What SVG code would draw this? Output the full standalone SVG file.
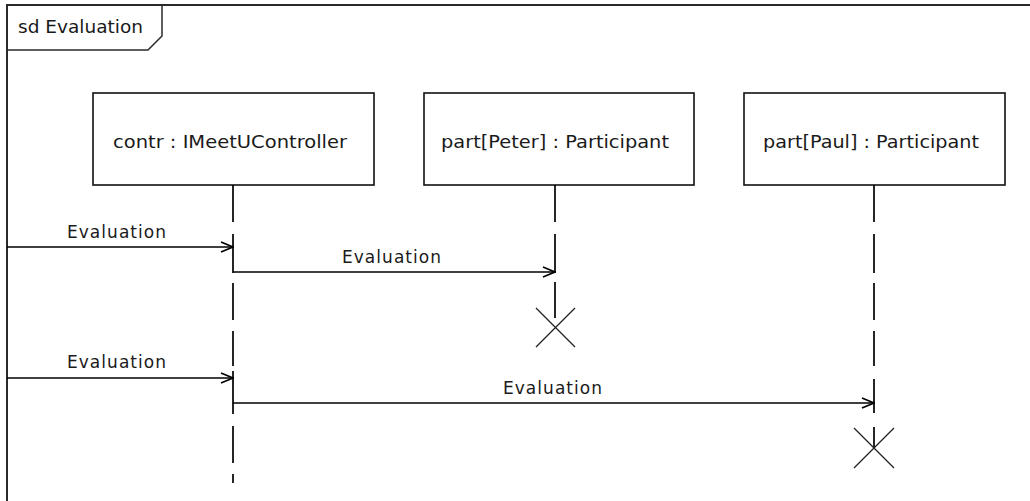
<svg xmlns="http://www.w3.org/2000/svg" width="1030" height="501" viewBox="0 0 1030 501">
  <style>
    .frame { fill: none; stroke: #2a2a2a; stroke-width: 2; }
    .tab { fill: none; stroke: #2a2a2a; stroke-width: 1.5; }
    .box { fill: #fff; stroke: #111; stroke-width: 1.6; }
    .life { fill: none; stroke: #000; stroke-width: 1.7; }
    .msg { fill: none; stroke: #000; stroke-width: 1.7; marker-end: url(#open); }
    .kill { fill: none; stroke: #222; stroke-width: 1.3; }
    text { font-family: "DejaVu Sans", Verdana, sans-serif; fill: #1a1a1a; }
    .lbl { font-size: 18px; }
    .mlbl { font-size: 17px; }
  </style>
  <defs>
    <marker id="open" viewBox="0 0 14 12" refX="13" refY="6" markerWidth="14" markerHeight="12" markerUnits="userSpaceOnUse" orient="auto">
      <path d="M1,1 L13,6 L1,11" fill="none" stroke="#000" stroke-width="1.7"/>
    </marker>
  </defs>

  <rect width="1030" height="501" fill="#fff"/>

  <!-- interaction frame -->
  <g id="frame">
    <path class="frame" d="M7,501 V5 H1030"/>
    <path class="tab" d="M7,50 H148 L162,36 V5"/>
    <text class="mlbl" x="18" y="33" textLength="125" lengthAdjust="spacingAndGlyphs">sd Evaluation</text>
  </g>

  <!-- lifeline heads -->
  <g id="contr">
    <rect class="box" x="93" y="93" width="281" height="92"/>
    <text class="lbl" x="113" y="148" textLength="234" lengthAdjust="spacingAndGlyphs">contr : IMeetUController</text>
  </g>
  <g id="peter">
    <rect class="box" x="424" y="93" width="270" height="92"/>
    <text class="lbl" x="441" y="148" textLength="228" lengthAdjust="spacingAndGlyphs">part[Peter] : Participant</text>
  </g>
  <g id="paul">
    <rect class="box" x="744" y="93" width="261" height="92"/>
    <text class="lbl" x="763" y="148" textLength="216" lengthAdjust="spacingAndGlyphs">part[Paul] : Participant</text>
  </g>

  <!-- lifelines and destruction marks -->
  <g id="lifelines">
    <path class="life" d="M233,185 V222 M233,234 V273 M233,283 V320 M233,331 V366 M233,371 V414 M233,426 V463 M233,474 V483"/>
    <path class="life" d="M555,185 V222 M555,234 V273 M555,282 V318"/>
    <path class="life" d="M874,185 V222 M874,234 V273 M874,283 V320 M874,331 V366 M874,379 V413 M874,427 V448"/>
    <path class="kill" d="M536,308 L575,347 M575,308 L536,347"/>
    <path class="kill" d="M854,428 L894,468 M894,428 L854,468"/>
  </g>

  <!-- messages -->
  <g id="connectors">
    <line class="msg" x1="7" y1="247" x2="233" y2="247"/>
    <line class="msg" x1="233" y1="272" x2="555" y2="272"/>
    <line class="msg" x1="7" y1="378" x2="233" y2="378"/>
    <line class="msg" x1="233" y1="403" x2="874" y2="403"/>
    <text class="mlbl" x="67" y="238" textLength="99">Evaluation</text>
    <text class="mlbl" x="342" y="263" textLength="99">Evaluation</text>
    <text class="mlbl" x="67" y="368" textLength="99">Evaluation</text>
    <text class="mlbl" x="503" y="394" textLength="99">Evaluation</text>
  </g>
</svg>
